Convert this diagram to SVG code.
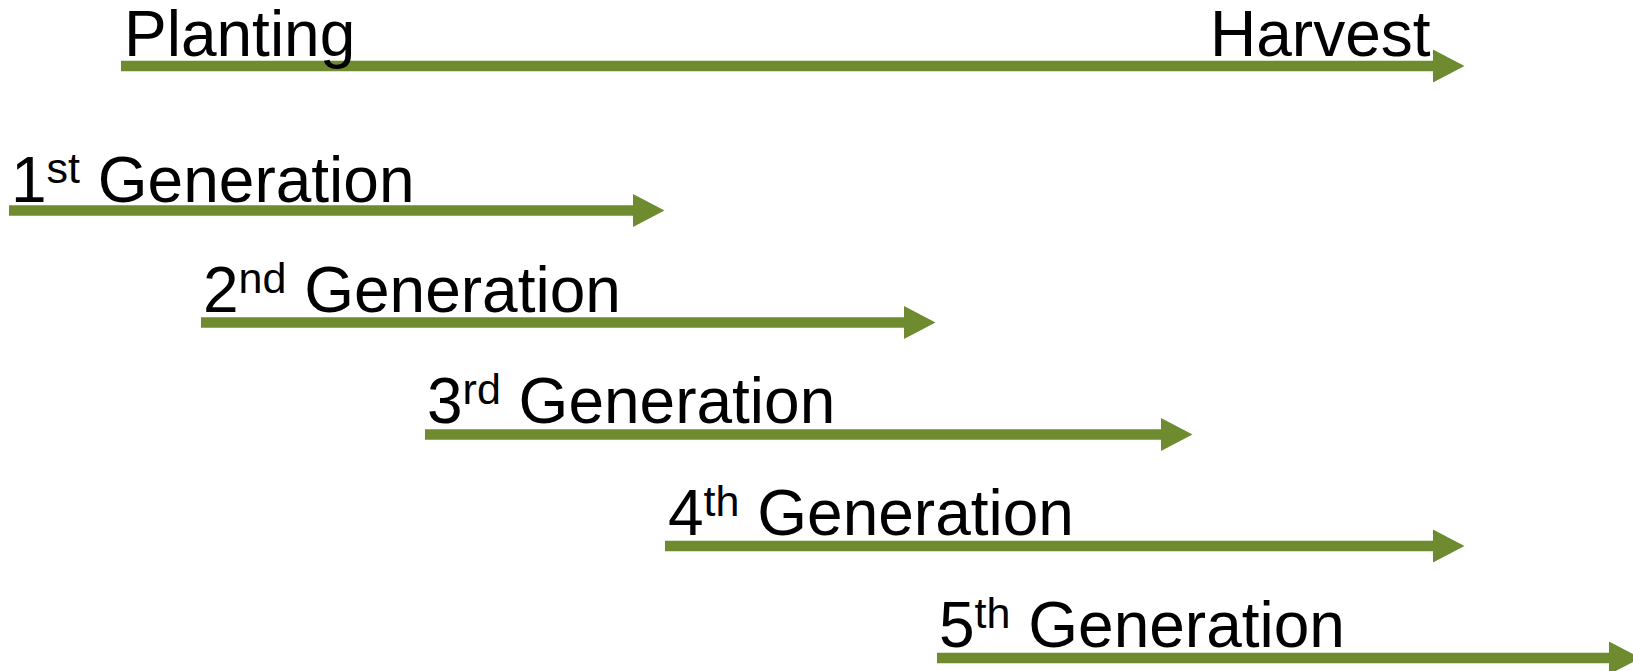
<svg xmlns="http://www.w3.org/2000/svg" width="1633" height="671" viewBox="0 0 1633 671">
  <defs>
    <style>
      .lbl { font-family: "Liberation Sans", Arial, sans-serif; font-size: 64px; fill: #000; }
      .sup { font-size: 43px; }
      .arr { stroke: #6E8B2F; stroke-width: 10.5; fill: none; stroke-linecap: butt; }
    </style>
    <marker id="head" markerUnits="userSpaceOnUse" markerWidth="32" markerHeight="34" refX="0" refY="16.5" orient="auto" overflow="visible">
      <path d="M0,0 L31.5,16.5 L0,33 Z" fill="#6E8B2F"/>
    </marker>
  </defs>
  <rect width="1633" height="671" fill="#ffffff"/>

  <g id="connectors">
    <line class="arr" x1="121" y1="66" x2="1433" y2="66" marker-end="url(#head)"/>
    <line class="arr" x1="9" y1="210.5" x2="633" y2="210.5" marker-end="url(#head)"/>
    <line class="arr" x1="201" y1="322.5" x2="904" y2="322.5" marker-end="url(#head)"/>
    <line class="arr" x1="425" y1="434.5" x2="1161" y2="434.5" marker-end="url(#head)"/>
    <line class="arr" x1="665" y1="546" x2="1433" y2="546" marker-end="url(#head)"/>
    <line class="arr" x1="937" y1="658" x2="1609" y2="658" marker-end="url(#head)"/>
  </g>

  <g id="planting"><text class="lbl" x="124" y="56">Planting</text></g>
  <g id="harvest"><text class="lbl" x="1210" y="56">Harvest</text></g>

  <g id="gen1">
    <text class="lbl" x="11" y="202">1<tspan class="sup" dy="-19">st</tspan><tspan dy="19"> Generation</tspan></text>
  </g>
  <g id="gen2">
    <text class="lbl" x="203" y="312">2<tspan class="sup" dy="-19">nd</tspan><tspan dy="19"> Generation</tspan></text>
  </g>
  <g id="gen3">
    <text class="lbl" x="427" y="423">3<tspan class="sup" dy="-19">rd</tspan><tspan dy="19"> Generation</tspan></text>
  </g>
  <g id="gen4">
    <text class="lbl" x="668" y="535">4<tspan class="sup" dy="-19">th</tspan><tspan dy="19"> Generation</tspan></text>
  </g>
  <g id="gen5">
    <text class="lbl" x="939" y="647">5<tspan class="sup" dy="-19">th</tspan><tspan dy="19"> Generation</tspan></text>
  </g>
</svg>
